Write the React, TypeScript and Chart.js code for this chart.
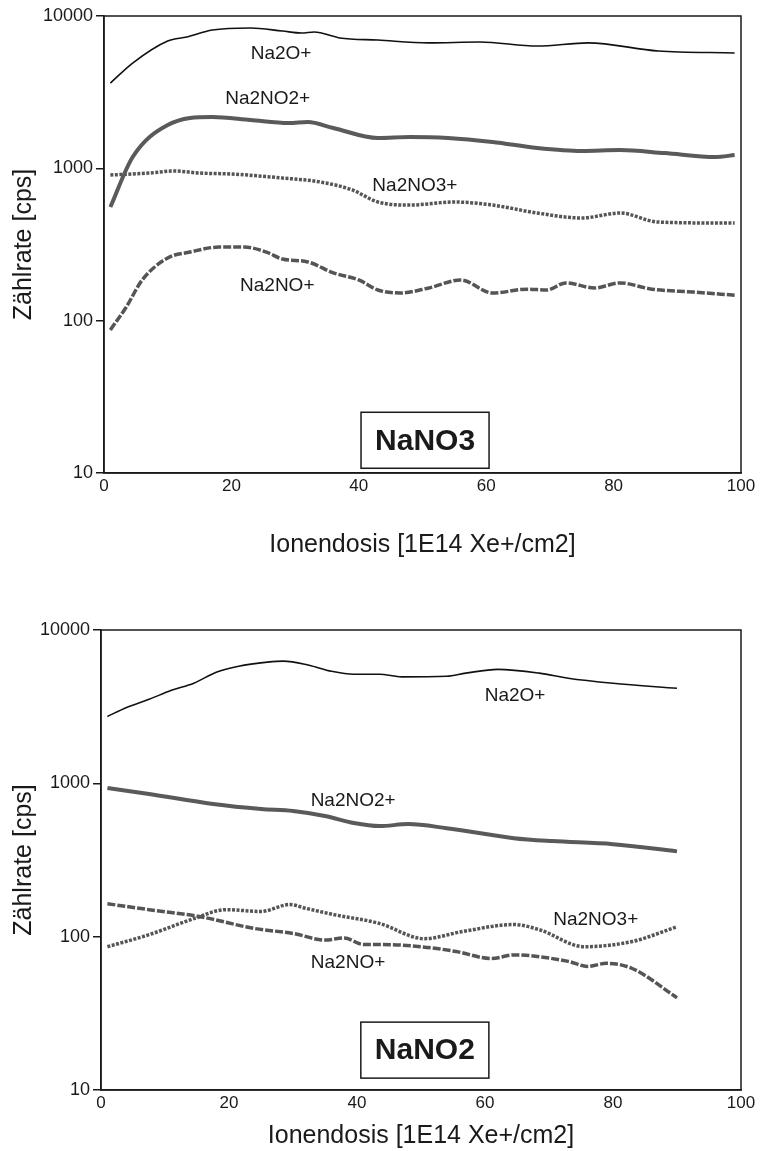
import React, { useEffect, useRef } from 'react';
import { Chart, registerables } from 'chart.js';

Chart.register(...registerables);

// ---------- axes ----------
const X_TICKS = [0, 20, 40, 60, 80, 100];
const Y_TICKS = [10, 100, 1000, 10000];
const X_TITLE = 'Ionendosis [1E14 Xe+/cm2]';
const Y_TITLE = 'Zählrate [cps]';
const SERIES_NAMES = ['Na2O+', 'Na2NO2+', 'Na2NO3+', 'Na2NO+'];

// ---------- NaNO3 panel ----------
const NO3_NA2O_X = [1, 4.5, 10, 13, 17, 23, 28, 31, 33, 37, 43, 51, 59, 68, 76, 87, 99];
const NO3_NA2O_Y = [3630, 4910, 6850, 7280, 8090, 8340, 7970, 7730, 7850, 7180, 6950, 6660, 6750, 6350, 6660, 5890, 5720];

const NO3_NA2NO2_X = [1, 4.5, 10, 17, 23, 29, 32, 36, 43, 48, 54, 61, 68, 75, 81, 88, 96, 99];
const NO3_NA2NO2_Y = [557, 1186, 1924, 2172, 2075, 1982, 2013, 1840, 1582, 1606, 1582, 1489, 1360, 1300, 1319, 1259, 1186, 1222];

const NO3_NA2NO3_X = [1, 7, 11, 15, 20, 28, 34, 39, 43, 48, 55, 61, 68, 75, 81, 87, 99];
const NO3_NA2NO3_Y = [904, 931, 960, 931, 918, 864, 813, 721, 601, 574, 601, 574, 509, 472, 509, 444, 437];

const NO3_NA2NO_X = [1, 3.5, 6, 10, 13.5, 18, 22, 25.5, 28, 32, 36, 40, 43, 46.5, 51, 56, 61, 66.5, 69.5, 72.5, 77, 81, 86, 92.5, 99];
const NO3_NA2NO_Y = [87, 123, 185, 258, 282, 304, 304, 282, 254, 243, 206, 185, 159, 152, 164, 185, 152, 161, 159, 177, 164, 177, 161, 154, 147];

const NO3_LABEL_X = [27.8, 25.7, 48.8, 27.2];
const NO3_LABEL_Y = [5620, 2850, 766, 169];
const NO3_BOX = { text: 'NaNO3', x: 50.4, y: 16.4 };

// ---------- NaNO2 panel ----------
const NO2_NA2O_X = [1, 4, 7.5, 11, 14.5, 18, 21.5, 26, 28.5, 32.5, 36, 39.5, 43.5, 47, 54, 57, 62, 68.5, 73, 80, 90];
const NO2_NA2O_Y = [2730, 3125, 3530, 4040, 4490, 5310, 5810, 6170, 6270, 5890, 5380, 5140, 5150, 4950, 4990, 5230, 5540, 5230, 4840, 4490, 4170];

const NO2_NA2NO2_X = [1, 7.5, 17.5, 25, 30, 35, 39.5, 43.5, 48, 54, 64.5, 70.5, 80, 90];
const NO2_NA2NO2_Y = [933, 853, 734, 681, 661, 613, 551, 526, 542, 510, 439, 420, 401, 360];

const NO2_NA2NO3_X = [1, 7.5, 14.5, 19.5, 25, 29.5, 32, 36.5, 43.5, 50.5, 56.5, 64.5, 68.5, 75.5, 83, 90];
const NO2_NA2NO3_Y = [86, 103, 131, 150, 146, 162, 153, 139, 122, 97, 108, 120, 111, 86, 93, 116];

const NO2_NA2NO_X = [1, 7.5, 15.5, 24, 30, 35, 38, 41, 43.5, 50, 55.5, 61, 64.5, 73, 76, 79, 83, 90];
const NO2_NA2NO_Y = [164, 150, 135, 113, 105, 95, 98, 89, 89, 86, 80, 72, 76, 69, 64, 67, 62, 40];

const NO2_LABEL_X = [64.7, 39.4, 77.3, 38.6];
const NO2_LABEL_Y = [3750, 767, 129, 67.6];
const NO2_BOX = { text: 'NaNO2', x: 50.6, y: 18.2 };

// ---------- styles ----------
const FONT = '"Liberation Sans", Arial, Helvetica, sans-serif';
const INK = '#1a1a1a';
const LINE_STYLES = [
  { color: '#111111', width: 1.6, dash: [] as number[] },
  { color: '#5a5a5a', width: 4, dash: [] as number[] },
  { color: '#555555', width: 3.5, dash: [3, 1.5] },
  { color: '#555555', width: 3.5, dash: [8, 2] },
];

const pts = (xs: number[], ys: number[]) => xs.map((x, i) => ({ x, y: ys[i] }));

const annotPlugin = {
  id: 'annot',
  afterDatasetsDraw(chart: any, _args: any, opts: any) {
    const { ctx, chartArea: a } = chart;
    const xs = chart.scales.x;
    const ys = chart.scales.y;
    ctx.save();
    ctx.strokeStyle = INK;
    ctx.lineWidth = 1.5;
    ctx.strokeRect(a.left, a.top, a.right - a.left, a.bottom - a.top);
    ctx.fillStyle = INK;
    ctx.textAlign = 'center';
    ctx.textBaseline = 'middle';
    ctx.font = `19px ${FONT}`;
    (opts.labels || []).forEach((l: any) => {
      ctx.fillText(l.text, xs.getPixelForValue(l.x), ys.getPixelForValue(l.y));
    });
    if (opts.box) {
      const b = opts.box;
      const cx = xs.getPixelForValue(b.x);
      const cy = ys.getPixelForValue(b.y);
      ctx.font = `bold 30px ${FONT}`;
      const w = ctx.measureText(b.text).width + 28;
      const h = 56;
      ctx.fillStyle = '#ffffff';
      ctx.fillRect(cx - w / 2, cy - h / 2, w, h);
      ctx.lineWidth = 1.5;
      ctx.strokeRect(cx - w / 2, cy - h / 2, w, h);
      ctx.fillStyle = INK;
      ctx.fillText(b.text, cx, cy + 1);
    }
    ctx.restore();
  },
};

type PanelDef = {
  height: number;
  plotTop: number;
  axisWidth: number;
  xAxisHeight: number;
  xTitlePad: number;
  series: { x: number[]; y: number[] }[];
  labelX: number[];
  labelY: number[];
  box: { text: string; x: number; y: number };
};

const PANELS: PanelDef[] = [
  {
    height: 560,
    plotTop: 16,
    axisWidth: 104,
    xAxisHeight: 87,
    xTitlePad: 14,
    series: [
      { x: NO3_NA2O_X, y: NO3_NA2O_Y },
      { x: NO3_NA2NO2_X, y: NO3_NA2NO2_Y },
      { x: NO3_NA2NO3_X, y: NO3_NA2NO3_Y },
      { x: NO3_NA2NO_X, y: NO3_NA2NO_Y },
    ],
    labelX: NO3_LABEL_X,
    labelY: NO3_LABEL_Y,
    box: NO3_BOX,
  },
  {
    height: 591,
    plotTop: 70,
    axisWidth: 101,
    xAxisHeight: 61,
    xTitlePad: 1,
    series: [
      { x: NO2_NA2O_X, y: NO2_NA2O_Y },
      { x: NO2_NA2NO2_X, y: NO2_NA2NO2_Y },
      { x: NO2_NA2NO3_X, y: NO2_NA2NO3_Y },
      { x: NO2_NA2NO_X, y: NO2_NA2NO_Y },
    ],
    labelX: NO2_LABEL_X,
    labelY: NO2_LABEL_Y,
    box: NO2_BOX,
  },
];

function Panel({ def }: { def: PanelDef }) {
  const ref = useRef<HTMLCanvasElement>(null);
  useEffect(() => {
    const chart = new Chart(ref.current as HTMLCanvasElement, {
      type: 'line',
      data: {
        datasets: def.series.map((s, i) => ({
          label: SERIES_NAMES[i],
          data: pts(s.x, s.y),
          borderColor: LINE_STYLES[i].color,
          borderWidth: LINE_STYLES[i].width,
          borderDash: LINE_STYLES[i].dash,
          pointRadius: 0,
          fill: false,
          cubicInterpolationMode: 'monotone' as const,
        })),
      },
      options: {
        responsive: false,
        animation: false,
        layout: { padding: { top: def.plotTop, right: 19, left: 0, bottom: 0 } },
        plugins: {
          legend: { display: false },
          tooltip: { enabled: false },
          annot: {
            labels: SERIES_NAMES.map((t, i) => ({ text: t, x: def.labelX[i], y: def.labelY[i] })),
            box: def.box,
          },
        } as any,
        scales: {
          x: {
            type: 'linear',
            min: 0,
            max: 100,
            afterBuildTicks: (s: any) => {
              s.ticks = X_TICKS.map((v) => ({ value: v }));
            },
            afterFit: (s: any) => {
              s.height = def.xAxisHeight;
            },
            grid: { display: false, drawTicks: false, tickLength: 0 },
            border: { display: true, color: INK, width: 1.5 },
            ticks: { color: INK, font: { family: FONT, size: 17 }, padding: 3, maxRotation: 0 },
            title: {
              display: true,
              text: X_TITLE,
              color: INK,
              font: { family: FONT, size: 25 },
              padding: { top: def.xTitlePad, bottom: 0 },
            },
          },
          y: {
            type: 'logarithmic',
            min: 10,
            max: 10000,
            afterBuildTicks: (s: any) => {
              s.ticks = Y_TICKS.map((v) => ({ value: v }));
            },
            afterFit: (s: any) => {
              s.width = def.axisWidth;
            },
            grid: { display: true, drawOnChartArea: false, drawTicks: true, tickLength: 8, color: INK, lineWidth: 1.5 },
            border: { display: true, color: INK, width: 1.5 },
            ticks: {
              color: INK,
              font: { family: FONT, size: 18 },
              padding: 3,
              callback: (v: any) => String(v),
            },
            title: {
              display: true,
              text: Y_TITLE,
              color: INK,
              font: { family: FONT, size: 25 },
              padding: { top: 9, bottom: 0 },
            },
          },
        },
      },
      plugins: [annotPlugin],
    } as any);
    return () => chart.destroy();
  }, [def]);
  return (
    <canvas
      ref={ref}
      width={760}
      height={def.height}
      style={{ display: 'block', width: 760, height: def.height }}
    />
  );
}

export default function App() {
  return (
    <div style={{ position: 'absolute', left: 0, top: 0, width: 760, height: 1151, background: '#fff' }}>
      {PANELS.map((p, i) => (
        <Panel key={i} def={p} />
      ))}
    </div>
  );
}
